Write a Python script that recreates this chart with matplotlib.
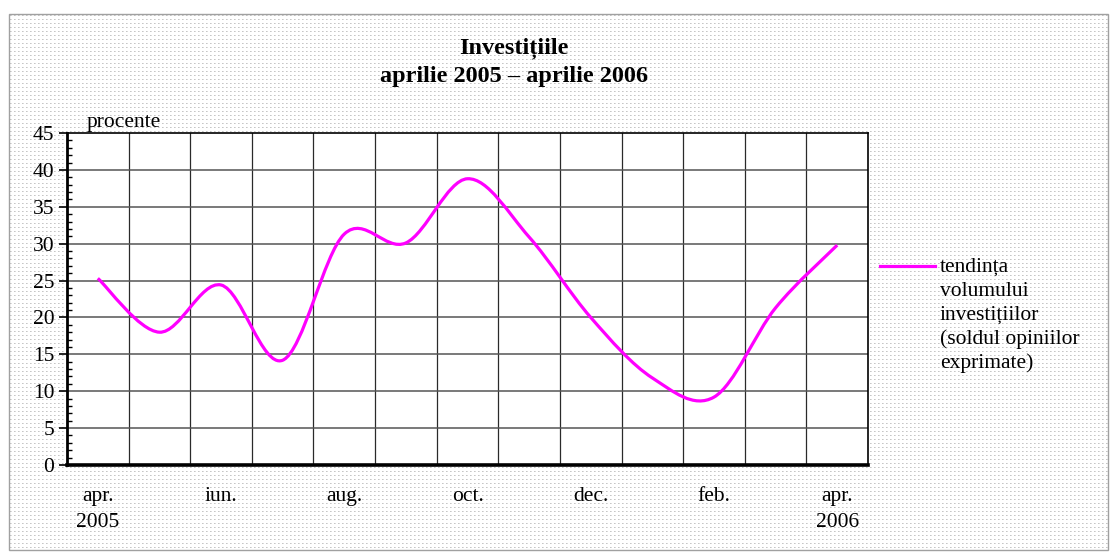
import numpy as np
import matplotlib
matplotlib.use("Agg")
import matplotlib.pyplot as plt
from matplotlib.path import Path
from matplotlib.patches import PathPatch, Rectangle
from matplotlib.lines import Line2D

plt.rcParams["font.family"] = ["Liberation Serif", "DejaVu Serif"]

# luni apr. 2005 - apr. 2006
luni = ["apr.\n2005", "mai", "iun.", "iul.", "aug.", "sep.", "oct.",
        "nov.", "dec.", "ian.", "feb.", "mar.", "apr.\n2006"]
valori = [25.3, 18.0, 24.4, 14.2, 31.3, 30.1, 38.8, 30.9, 20.0, 11.8, 9.2, 21.3, 29.8]
etichete_afisate = [0, 2, 4, 6, 8, 10, 12]
legenda = ["tendința", "volumului", "investițiilor", "(soldul opiniilor", "exprimate)"]

MAGENTA = "#ff00ff"
FS = 15.5


def smooth_path(xs, ys):
    """Curba netezita (Bezier, tip Catmull-Rom) prin punctele date."""
    pts = np.column_stack([xs, ys]).astype(float)
    ext = np.vstack([pts[0], pts, pts[-1]])
    verts = [tuple(pts[0])]
    codes = [Path.MOVETO]
    for i in range(len(pts) - 1):
        p0, p1, p2, p3 = ext[i], ext[i + 1], ext[i + 2], ext[i + 3]
        c1 = p1 + (p2 - p0) / 6.0
        c2 = p2 - (p3 - p1) / 6.0
        verts += [tuple(c1), tuple(c2), tuple(p2)]
        codes += [Path.CURVE4] * 3
    return Path(verts, codes)


W, H = 1110, 552
fig = plt.figure(figsize=(W / 100, H / 100), dpi=100, facecolor="white")

# fundal punctat (chart area)
bx0, by0, bx1, by1 = 9, 14, 1108, 550
bg = np.ones((by1 - by0, bx1 - bx0, 3))
bg[1::4, 1::4] = 0.78
bg[1::4, 2::4] = 0.86
fig.figimage(bg, xo=bx0, yo=H - by1, zorder=-5)
fig.patches.append(Rectangle((bx0 / W, 1 - by1 / H), (bx1 - bx0) / W, (by1 - by0) / H,
                             transform=fig.transFigure, fill=False,
                             edgecolor="#a0a0a0", linewidth=1.0, zorder=-4))

ax = fig.add_axes([67 / W, 1 - 465 / H, 801 / W, 332 / H])
ax.set_facecolor("white")

x = np.arange(len(valori))
ax.add_patch(PathPatch(smooth_path(x, valori), fill=False, edgecolor=MAGENTA,
                       linewidth=2.3, zorder=5, capstyle="butt"))

ax.set_xlim(-0.5, len(valori) - 0.5)
ax.set_ylim(0, 45)

# grila
for b in np.arange(0.5, len(valori) - 0.5, 1.0):
    ax.axvline(b, color="#2a2a2a", linewidth=0.9, zorder=1)
for v in range(5, 45, 5):
    ax.axhline(v, color="#555555", linewidth=1.1, zorder=1)

ax.set_yticks(range(0, 46, 5))
ax.set_yticks(range(0, 46, 1), minor=True)
ax.tick_params(axis="y", which="major", direction="out", length=6, width=1.2,
               labelsize=FS, pad=3)
ax.tick_params(axis="y", which="minor", direction="in", length=3.5, width=1.0)
ax.set_xticks([x[i] for i in etichete_afisate])
ax.set_xticklabels([luni[i] for i in etichete_afisate], fontsize=FS, linespacing=1.45)
ax.tick_params(axis="x", length=0, pad=16)

for s in ["top", "right"]:
    ax.spines[s].set_linewidth(1.2)
ax.spines["left"].set_linewidth(2.0)
ax.spines["bottom"].set_linewidth(2.6)

fig.text(514 / W, 1 - 62 / H, "Investițiile\naprilie 2005 – aprilie 2006",
         ha="center", va="center", fontsize=17.5, fontweight="bold", linespacing=1.42)
fig.text(87 / W, 1 - 122 / H, "procente", ha="left", va="center", fontsize=FS)

# legenda (linie + text pe mai multe randuri)
fig.add_artist(Line2D([880 / W, 935 / W], [1 - 266 / H, 1 - 266 / H],
                      transform=fig.transFigure, color=MAGENTA, linewidth=2.3))
for k, rand in enumerate(legenda):
    fig.text(940 / W, 1 - (267 + 24 * k) / H, rand, ha="left", va="center",
             fontsize=FS)

fig.savefig("out.png", dpi=100, facecolor="white")
